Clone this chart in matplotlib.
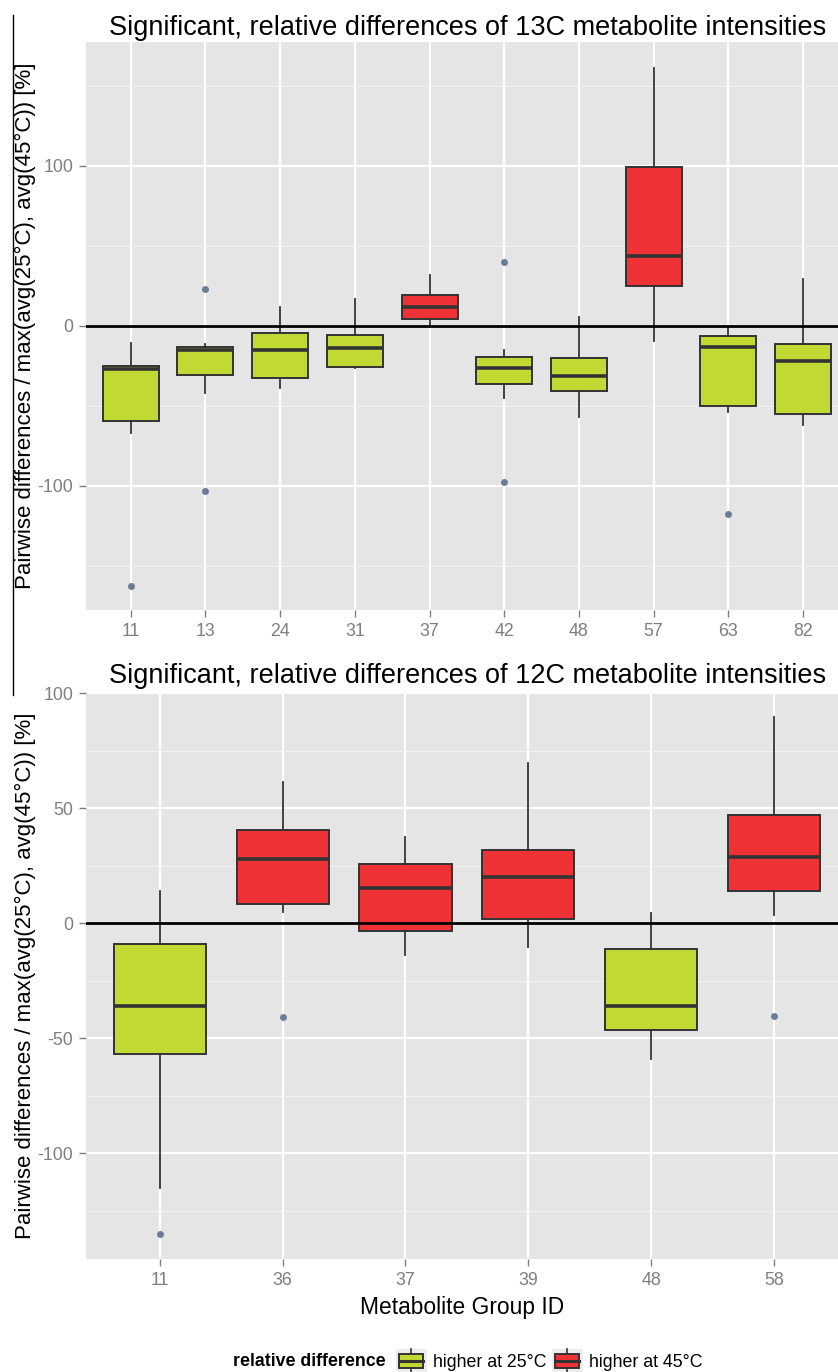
import matplotlib
matplotlib.use("Agg")
import matplotlib.pyplot as plt
from matplotlib.legend_handler import HandlerBase
from matplotlib.lines import Line2D
from matplotlib.patches import Patch, Rectangle
from matplotlib.ticker import FixedLocator

plt.rcParams["font.family"] = ["Liberation Sans", "DejaVu Sans"]
plt.rcParams["axes.unicode_minus"] = False

# 13C panel
c13_ids = ["11", "13", "24", "31", "37", "42", "48", "57", "63", "82"]
c13_whislo = [-66.9, -42.3, -38.7, -26.6, 0.4, -45.4, -57.3, -9.4, -53.7, -62.0]
c13_q1 = [-59.8, -31.0, -32.5, -25.6, 4.2, -36.2, -40.6, 25.0, -50.0, -55.0]
c13_med = [-27.0, -15.2, -15.2, -14.1, 11.5, -26.6, -31.4, 43.6, -13.3, -22.3]
c13_q3 = [-25.0, -13.3, -4.8, -5.6, 19.2, -19.6, -20.4, 99.0, -6.4, -11.6]
c13_whishi = [-11.0, -11.4, 11.5, 16.7, 31.7, -15.2, 5.6, 160.8, -0.5, 29.0]
c13_fliers = [[-162.5], [22.7, -103.3], [], [], [], [40.0, -97.9], [], [], [-117.7], []]
c13_higher = [25, 25, 25, 25, 45, 25, 25, 45, 25, 25]

# 12C panel
c12_ids = ["11", "36", "37", "39", "48", "58"]
c12_whislo = [-115.2, 4.8, -13.8, -10.2, -59.1, 3.6]
c12_q1 = [-56.8, 8.3, -3.5, 1.9, -46.4, 14.0]
c12_med = [-36.0, 28.0, 15.2, 20.0, -36.1, 28.7]
c12_q3 = [-8.9, 40.6, 25.8, 31.9, -11.3, 47.1]
c12_whishi = [14.0, 61.6, 37.7, 69.6, 4.6, 89.8]
c12_fliers = [[-135.2], [-40.6], [], [], [], [-40.3]]
c12_higher = [25, 45, 45, 45, 25, 45]

GREEN = "#c2d833"
RED = "#ee3236"
EDGE = "#333333"
FLIER = "#6b7d96"
GREY_TXT = "#7f7f7f"
COLORS = {25: GREEN, 45: RED}

W, H = 838, 1372


def px_axes(fig, left, top, right, bottom):
    return fig.add_axes([left / W, 1 - bottom / H, (right - left) / W, (bottom - top) / H])


def draw_panel(ax, ids, whislo, q1, med, q3, whishi, fliers, higher, title,
               major, minor, ylim, xright, title_pad):
    stats = []
    for i in range(len(ids)):
        stats.append(dict(whislo=whislo[i], q1=q1[i], med=med[i], q3=q3[i],
                          whishi=whishi[i], fliers=fliers[i], label=ids[i]))
    pos = list(range(1, len(ids) + 1))
    bp = ax.bxp(stats, positions=pos, widths=0.75, patch_artist=True, showcaps=False,
                boxprops=dict(edgecolor=EDGE, linewidth=1.4),
                medianprops=dict(color=EDGE, linewidth=2.6, solid_capstyle="butt"),
                whiskerprops=dict(color=EDGE, linewidth=1.3),
                flierprops=dict(marker="o", markersize=5, markerfacecolor=FLIER,
                                markeredgecolor="none"),
                zorder=3)
    for patch, h in zip(bp["boxes"], higher):
        patch.set_facecolor(COLORS[h])

    ax.axhline(0, color="black", linewidth=2.0, zorder=5)

    ax.set_facecolor("#e5e5e5")
    for s in ax.spines.values():
        s.set_visible(False)
    ax.set_xlim(0.4, xright)
    ax.set_ylim(*ylim)
    ax.yaxis.set_major_locator(FixedLocator(major))
    ax.yaxis.set_minor_locator(FixedLocator(minor))
    ax.set_xticks(pos)
    ax.set_xticklabels(ids)
    ax.grid(True, which="major", color="white", linewidth=1.6, zorder=0)
    ax.grid(True, which="minor", axis="y", color="#f2f2f2", linewidth=0.8, zorder=0)
    ax.set_axisbelow(True)
    ax.tick_params(which="major", length=5, width=1, color=GREY_TXT,
                   labelcolor=GREY_TXT, labelsize=12.8)
    ax.tick_params(axis="y", which="major", pad=4)
    ax.tick_params(axis="x", which="major", pad=4)
    ax.tick_params(which="minor", length=0)
    ax.set_title(title, fontsize=19.5, pad=title_pad, color="black", x=0.507)
    ax.set_ylabel("Pairwise differences / max(avg(25°C), avg(45°C)) [%]", fontsize=16)
    ax.yaxis.set_label_coords(-0.067, 0.5)


fig = plt.figure(figsize=(W / 100, H / 100), dpi=100)

ax1 = px_axes(fig, 86, 42, W, 610)
draw_panel(ax1, c13_ids, c13_whislo, c13_q1, c13_med, c13_q3, c13_whishi, c13_fliers,
           c13_higher, "Significant, relative differences of 13C metabolite intensities",
           [-100, 0, 100], [-150, -50, 50, 150], (-177.7, 177.3), 10.47, 5)

ax2 = px_axes(fig, 86, 691.7, W, 1259.3)
draw_panel(ax2, c12_ids, c12_whislo, c12_q1, c12_med, c12_q3, c12_whishi, c12_fliers,
           c12_higher, "Significant, relative differences of 12C metabolite intensities",
           [-100, -50, 0, 50, 100], [-125, -75, -25, 25, 75], (-146.1, 100.7), 6.52, 6)
ax2.set_xlabel("Metabolite Group ID", fontsize=16.4, labelpad=5)

# stray frame line at left edge of the original figure
fig.add_artist(Line2D([13 / W, 13 / W], [1 - 15 / H, 1 - 695 / H],
                      transform=fig.transFigure, color="black", linewidth=1.0))


class BoxKey(HandlerBase):
    def create_artists(self, legend, orig_handle, xdescent, ydescent, width, height,
                       fontsize, trans):
        x0, y0 = -xdescent, -ydescent
        bg = Rectangle((x0, y0), width, height, facecolor="#ececec", edgecolor="none",
                       transform=trans)
        bx = Rectangle((x0 + 0.12 * width, y0 + 0.2 * height), 0.76 * width, 0.6 * height,
                       facecolor=orig_handle.get_facecolor(), edgecolor=EDGE, linewidth=1.4,
                       transform=trans)
        cx = x0 + width / 2
        med = Line2D([x0 + 0.12 * width, x0 + 0.88 * width], [y0 + height / 2] * 2,
                     color=EDGE, linewidth=2.2, transform=trans)
        wt = Line2D([cx, cx], [y0 + 0.8 * height, y0 + height], color=EDGE,
                    linewidth=1.2, transform=trans)
        wb = Line2D([cx, cx], [y0, y0 + 0.2 * height], color=EDGE, linewidth=1.2,
                    transform=trans)
        return [bg, bx, med, wt, wb]


handles = [Patch(facecolor=GREEN), Patch(facecolor=RED)]
fig.text(233 / W, 1 - 1362 / H, "relative difference", fontsize=12.8, fontweight="bold",
         ha="left", va="center")
fig.legend(handles, ["higher at 25°C", "higher at 45°C"], ncol=2,
           handler_map={Patch: BoxKey()}, loc="center left",
           bbox_to_anchor=(392 / W, 1 - 1361 / H), frameon=False, fontsize=12.8,
           handlelength=1.75, handleheight=1.7, handletextpad=0.35, columnspacing=0.3,
           borderpad=0.2, borderaxespad=0)

fig.savefig("out.png", dpi=100)
